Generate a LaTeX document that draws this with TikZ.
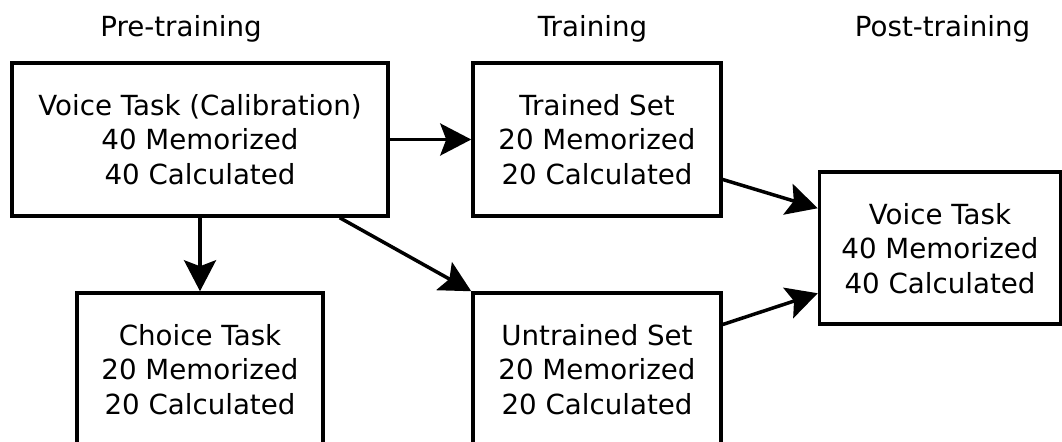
\documentclass[tikz,border=0pt]{standalone}
\usepackage{fontspec}
\setmainfont{DejaVu Sans}
\usetikzlibrary{positioning, arrows.meta}

\tikzset{
  box/.style={draw, line width=0.07cm, align=center, minimum height=3.06cm,
    font=\fontsize{15.76}{19.6}\selectfont},
  head/.style={anchor=base, font=\fontsize{15.76}{19.6}\selectfont},
  arr/.style={-{Stealth[length=0.62cm, width=0.64cm, inset=0.12cm]}, line width=0.07cm}
}

\begin{document}
\begin{tikzpicture}
\useasboundingbox (0,0) rectangle (21.24,-8.84);
% stage titles
\node[head](Pre) at (3.62,-0.74){Pre-training};
\node[head](Train) at (11.85,-0.74){Training};
\node[head](PostHead) at (18.85,-0.74){Post-training};

\node[box, minimum width=7.52cm](Calib) at (4.0,-2.79){Voice Task (Calibration)\\ 40 Memorized\\ 40 Calculated};
\node[box, minimum width=4.96cm, right=1.63cm of Calib](Trained){Trained Set\\ 20 Memorized\\ 20 Calculated};
\node[box, minimum width=4.92cm, below=1.47cm of Calib](Choice){Choice Task\\ 20 Memorized\\ 20 Calculated};
\node[box, minimum width=4.96cm, below=1.47cm of Trained](Untrained){Untrained Set\\ 20 Memorized\\ 20 Calculated};
\node[box, minimum width=4.82cm, minimum height=3.04cm, below right=0.62cm and 1.9cm of Trained.east](Post){Voice Task\\ 40 Memorized\\ 40 Calculated};

\draw[arr] (Calib.east) -- (Trained.west);
\draw[arr] (Calib.south -| Choice.north) -- (Choice.north);
\draw[arr] ([xshift=-1cm]Calib.south east) -- (Untrained.north west);
\draw[arr] ([yshift=-0.8cm]Trained.east) -- ([yshift=0.8cm]Post.west);
\draw[arr] ([yshift=0.9cm]Untrained.east) -- ([yshift=-0.9cm]Post.west);

\end{tikzpicture}
\end{document}
